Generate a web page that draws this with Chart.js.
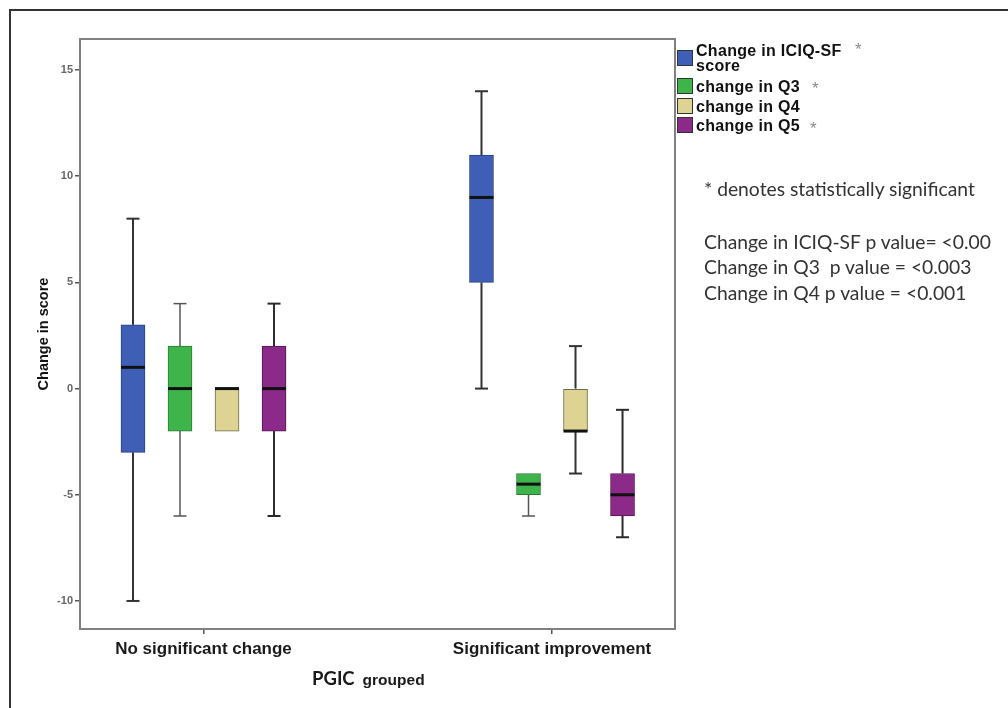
<!DOCTYPE html>
<html>
<head>
<meta charset="utf-8">
<script src="https://cdn.jsdelivr.net/npm/chart.js@4/dist/chart.umd.min.js"></script>
<style>
html,body{margin:0;padding:0;background:#fff;}
#wrap{position:relative;width:1008px;height:708px;overflow:hidden;background:#fff;}
#c{position:absolute;left:0;top:0;}
.frame{position:absolute;left:9px;top:9px;width:1100px;height:800px;border-top:2px solid #333;border-left:2px solid #333;}
.lg{position:absolute;font-family:"Liberation Sans",Arial,sans-serif;font-weight:bold;font-size:16px;letter-spacing:0.3px;line-height:16px;color:#111;white-space:nowrap;}
.sw{position:absolute;width:14px;height:14px;border:1px solid #333;}
.ast{position:absolute;font-family:"Liberation Sans",Arial,sans-serif;font-size:17px;line-height:17px;color:#8a8a8a;}
.note{position:absolute;left:704px;font-family:Lato,"Open Sans",sans-serif;font-size:19.3px;line-height:24px;color:#333;white-space:nowrap;}
#xt{position:absolute;left:312px;top:667px;white-space:nowrap;color:#1a1a1a;}
#xt .a{font-family:Lato,"Open Sans",sans-serif;font-size:18.5px;font-weight:bold;}
#xt .b{font-family:"Liberation Sans",Arial,sans-serif;font-size:15.5px;font-weight:bold;}
</style>
</head>
<body>
<div id="wrap">
<canvas id="c" width="1008" height="708"></canvas>
<div class="frame"></div>
<div id="legend"></div>
<div class="note" style="top:177px;">* denotes statistically significant</div>
<div class="note" style="top:230px;">Change in ICIQ-SF p value= &lt;0.00</div>
<div class="note" style="top:255px;">Change in Q3 &nbsp;p value = &lt;0.003</div>
<div class="note" style="top:281px;">Change in Q4 p value = &lt;0.001</div>
<div id="xt"><span class="a">PGIC</span>&nbsp; <span class="b">grouped</span></div>
</div>
<script>
// ---- data ----
const categories = ['No significant change', 'Significant improvement'];
const seriesNames = ['Change in ICIQ-SF score', 'change in Q3', 'change in Q4', 'change in Q5'];
const significant = [true, true, false, true];
const yTicks = [-10, -5, 0, 5, 10, 15];

const iciqMin = [-10, 0], iciqQ1 = [-3, 5], iciqMedian = [1, 9], iciqQ3 = [3, 11], iciqMax = [8, 14];
const q3Min = [-6, -6], q3Q1 = [-2, -5], q3Median = [0, -4.5], q3Q3 = [2, -4], q3Max = [4, -4];
const q4Min = [-2, -4], q4Q1 = [-2, -2], q4Median = [0, -2], q4Q3 = [0, 0], q4Max = [0, 2];
const q5Min = [-6, -7], q5Q1 = [-2, -6], q5Median = [0, -5], q5Q3 = [2, -4], q5Max = [4, -1];

// ---- styles ----
const fills = ['#3f5fb6', '#3db54b', '#ddd494', '#8b2a88'];
const edges = ['#2a3f80', '#2a7a35', '#6e6a4a', '#4f1850'];
const whiskerColors = ['#333333', '#555555', '#333333', '#2a2a2a'];
const whiskerWidths = [2, 1.5, 2, 2];
const slot = 0.1349;      // spacing between boxes, in category units
const capHalf = 6.5;      // px
const boxWidth = 24;      // px

const stats = [
  {min: iciqMin, q1: iciqQ1, med: iciqMedian, q3: iciqQ3, max: iciqMax},
  {min: q3Min, q1: q3Q1, med: q3Median, q3: q3Q3, max: q3Max},
  {min: q4Min, q1: q4Q1, med: q4Median, q3: q4Q3, max: q4Max},
  {min: q5Min, q1: q5Q1, med: q5Median, q3: q5Q3, max: q5Max}
];
const xPos = (j, i) => j + (i - 1.5) * slot;

const datasets = stats.map((s, i) => ({
  label: seriesNames[i],
  data: categories.map((c, j) => ({x: xPos(j, i), y: [s.q1[j], s.q3[j]]})),
  backgroundColor: fills[i],
  borderColor: edges[i],
  borderWidth: 1,
  borderSkipped: false,
  barThickness: boxWidth,
  grouped: false
}));

const framePlugin = {
  id: 'frame',
  beforeDatasetsDraw(chart) {
    const {ctx, chartArea: a} = chart;
    ctx.save();
    ctx.strokeStyle = '#808080';
    ctx.lineWidth = 2;
    ctx.strokeRect(a.left, a.top, a.right - a.left, a.bottom - a.top);
    ctx.restore();
  }
};

const whiskerPlugin = {
  id: 'whiskers',
  beforeDatasetsDraw(chart) {
    const {ctx, scales: {x, y}} = chart;
    ctx.save();
    stats.forEach((s, i) => {
      ctx.strokeStyle = whiskerColors[i];
      ctx.lineWidth = whiskerWidths[i];
      categories.forEach((c, j) => {
        const px = x.getPixelForValue(xPos(j, i));
        const seg = (v1, v2) => {
          if (v1 === v2) return;
          const y1 = y.getPixelForValue(v1), y2 = y.getPixelForValue(v2);
          ctx.beginPath(); ctx.moveTo(px, y1); ctx.lineTo(px, y2); ctx.stroke();
          ctx.beginPath(); ctx.moveTo(px - capHalf, y1); ctx.lineTo(px + capHalf, y1); ctx.stroke();
        };
        seg(s.min[j], s.q1[j]);
        seg(s.max[j], s.q3[j]);
      });
    });
    ctx.restore();
  },
  afterDatasetsDraw(chart) {
    const {ctx, scales: {x, y}} = chart;
    ctx.save();
    ctx.strokeStyle = '#111';
    ctx.lineWidth = 3;
    stats.forEach((s, i) => {
      categories.forEach((c, j) => {
        const px = x.getPixelForValue(xPos(j, i));
        const py = y.getPixelForValue(s.med[j]);
        ctx.beginPath(); ctx.moveTo(px - boxWidth / 2, py); ctx.lineTo(px + boxWidth / 2, py); ctx.stroke();
      });
    });
    ctx.restore();
  }
};

new Chart(document.getElementById('c'), {
  type: 'bar',
  data: {datasets},
  options: {
    responsive: false,
    animation: false,
    events: [],
    layout: {padding: {top: 39, right: 333, left: 0, bottom: 0}},
    plugins: {legend: {display: false}, tooltip: {enabled: false}},
    scales: {
      x: {
        type: 'linear',
        offset: false,
        min: -0.3544,
        max: 1.3529,
        afterFit(s) { s.height = 79; },
        afterBuildTicks(s) { s.ticks = categories.map((c, j) => ({value: j})); },
        ticks: {
          callback: (v) => categories[v] !== undefined ? categories[v] : '',
          font: {family: '"Liberation Sans", Arial, sans-serif', size: 17, weight: 'bold'},
          color: '#1a1a1a',
          padding: 5,
          maxRotation: 0,
          autoSkip: false
        },
        grid: {display: true, offset: false, drawOnChartArea: false, drawTicks: true, tickLength: 5, color: '#555', lineWidth: 1.5},
        border: {display: false}
      },
      y: {
        type: 'linear',
        min: -11.32,
        max: 16.46,
        afterFit(s) { s.width = 80; },
        afterBuildTicks(s) { s.ticks = yTicks.map(v => ({value: v})); },
        ticks: {
          font: {family: '"Liberation Sans", Arial, sans-serif', size: 11, weight: 'bold'},
          color: '#666',
          padding: 2
        },
        grid: {display: true, drawOnChartArea: false, drawTicks: true, tickLength: 5, color: '#555', lineWidth: 1.5},
        border: {display: false},
        title: {
          display: true,
          text: 'Change in score',
          font: {family: '"Liberation Sans", Arial, sans-serif', size: 14.5, weight: 'bold'},
          color: '#111',
          padding: {top: 35, bottom: 0}
        }
      }
    }
  },
  plugins: [framePlugin, whiskerPlugin]
});

// ---- legend (HTML) ----
const lg = document.getElementById('legend');
const swTops = [50, 78, 98, 117];
const textTops = [[43, 58], [79], [98.5], [118]];
const astPos = [[855, 41], [812, 80], null, [810, 120]];
const legendLines = [['Change in ICIQ-SF', 'score'], [seriesNames[1]], [seriesNames[2]], [seriesNames[3]]];
seriesNames.forEach((n, i) => {
  const sw = document.createElement('div');
  sw.className = 'sw';
  sw.style.left = '677px';
  sw.style.top = swTops[i] + 'px';
  sw.style.background = fills[i];
  lg.appendChild(sw);
  legendLines[i].forEach((t, k) => {
    const d = document.createElement('div');
    d.className = 'lg';
    d.style.left = '696px';
    d.style.top = textTops[i][k] + 'px';
    d.textContent = t;
    lg.appendChild(d);
  });
  if (significant[i] && astPos[i]) {
    const a = document.createElement('div');
    a.className = 'ast';
    a.style.left = astPos[i][0] + 'px';
    a.style.top = astPos[i][1] + 'px';
    a.textContent = '*';
    lg.appendChild(a);
  }
});
</script>
</body>
</html>
